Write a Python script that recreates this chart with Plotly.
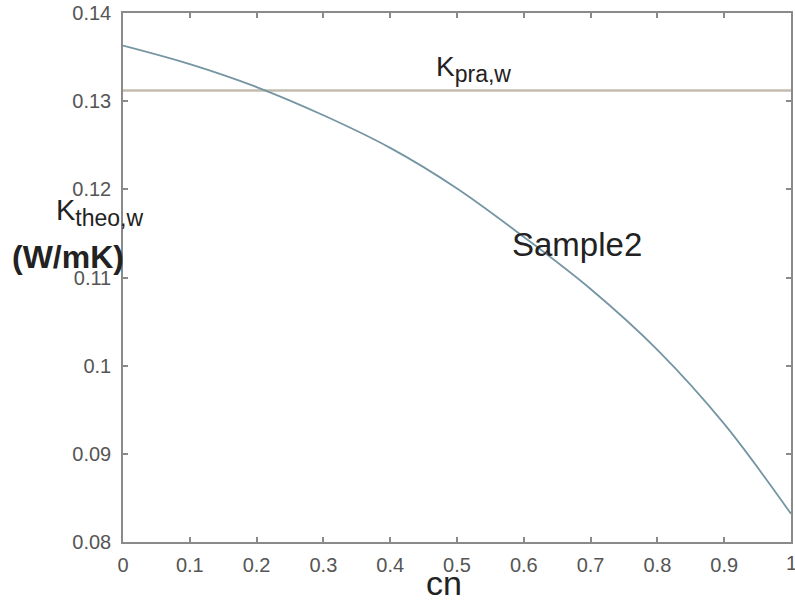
import plotly.graph_objects as go

# Theoretical thermal conductivity of Sample2 versus cn
cn = [0.0, 0.1, 0.2, 0.3, 0.4, 0.5, 0.6, 0.7, 0.8, 0.9, 1.0]
k_theo = [0.1363, 0.1342, 0.1316, 0.1284, 0.1247, 0.1201, 0.1146, 0.1087, 0.1018, 0.0934, 0.0832]

# Measured (practical) conductivity, constant
k_pra = 0.1312

x_ticks = [0, 0.1, 0.2, 0.3, 0.4, 0.5, 0.6, 0.7, 0.8, 0.9, 1]
x_tick_text = ["0", "0.1", "0.2", "0.3", "0.4", "0.5", "0.6", "0.7", "0.8", "0.9", "1"]
y_ticks = [0.08, 0.09, 0.1, 0.11, 0.12, 0.13, 0.14]
y_tick_text = ["0.08", "0.09", "0.1", "0.11", "0.12", "0.13", "0.14"]

FONT = "Liberation Sans, Arial, sans-serif"
TICK_SIZE = 20

fig = go.Figure()
fig.add_trace(go.Scatter(
    x=[cn[0], cn[-1]], y=[k_pra, k_pra], mode="lines",
    line=dict(color="#c3bcae", width=2.5), hoverinfo="skip", showlegend=False,
))
fig.add_trace(go.Scatter(
    x=cn, y=k_theo, mode="lines", line_shape="spline",
    line=dict(color="#7595a3", width=1.8), showlegend=False,
))

axis_common = dict(
    showgrid=False, zeroline=False, showline=True, mirror="ticks",
    linecolor="#8a8a8a", linewidth=1.5, ticks="inside", ticklen=5,
    tickcolor="#8a8a8a", tickwidth=1.5,
    tickfont=dict(family=FONT, size=TICK_SIZE, color="#555555"),
)

def label(text, x, y, size, xref="paper", yref="paper", color="#222222"):
    return dict(text=text, x=x, y=y, xref=xref, yref=yref,
                xanchor="center", yanchor="middle", showarrow=False,
                font=dict(family=FONT, size=size, color=color))

def k_sym(sub, sub_size):
    return "K<sub><span style='font-size:%dpx'>%s</span></sub>" % (sub_size, sub)

fig.update_layout(
    width=795, height=610,
    margin=dict(l=123, r=2, t=13, b=68),
    paper_bgcolor="white", plot_bgcolor="white",
    xaxis=dict(range=[0, 1], tickvals=x_ticks, ticktext=x_tick_text,
               ticklabelstandoff=4, **axis_common),
    yaxis=dict(range=[0.08, 0.14], tickvals=y_ticks, ticktext=y_tick_text,
               ticklabelstandoff=6, **axis_common),
    annotations=[
        label(k_sym("pra,w", 23), 0.524, 0.1337, 28, "x", "y"),
        label("Sample2", 0.68, 0.1137, 33, "x", "y"),
        label(k_sym("theo,w", 23), -0.035, 0.623, 29),
        label("<b>(W/mK)</b>", -0.082, 0.538, 32),
        label("cn", 0.481, -0.078, 34),
        # last x tick label, sitting on the right edge of the page
        label("1", 1.0, -0.04, TICK_SIZE, color="#555555"),
    ],
)

fig.write_html("out.html")
